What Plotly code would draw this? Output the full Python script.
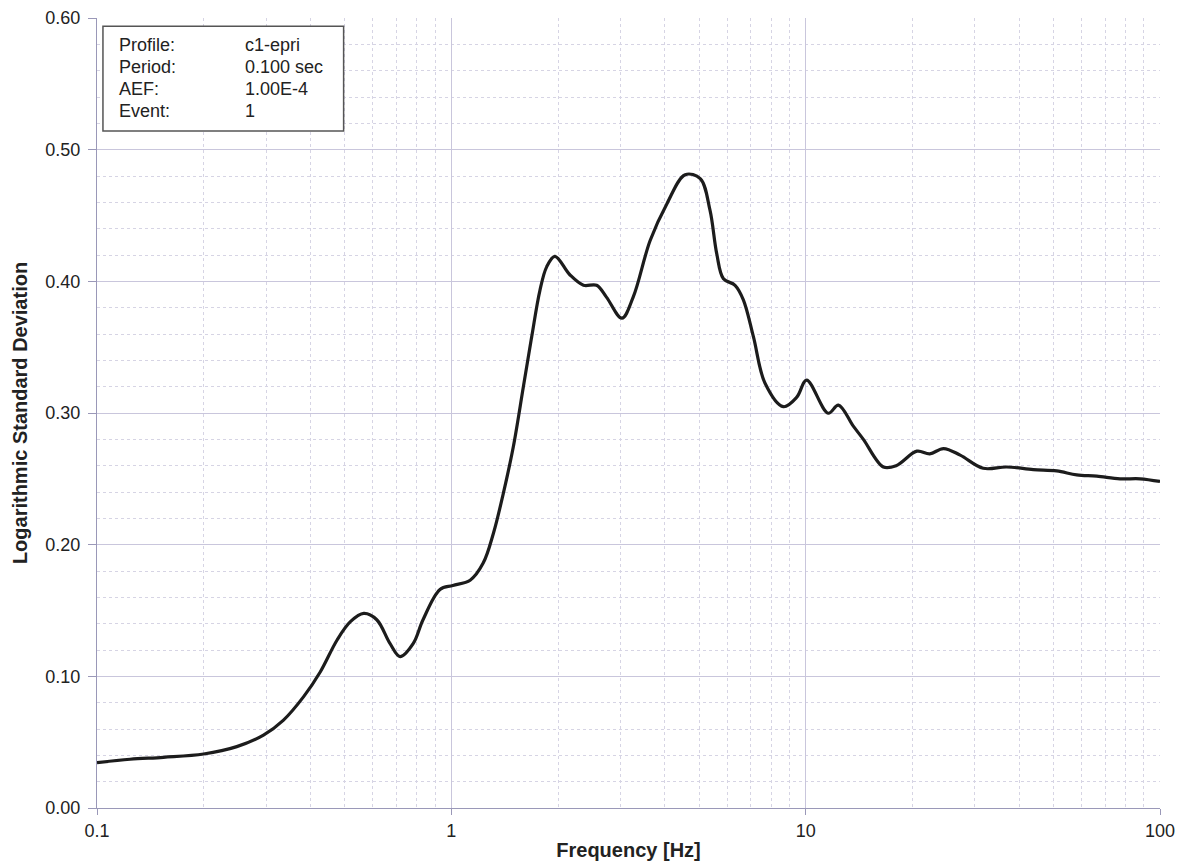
import plotly.graph_objects as go

# Frequency (Hz) and logarithmic standard deviation of the site response
freq_hz = [0.1, 0.124, 0.154, 0.2, 0.248, 0.295, 0.336, 0.383, 0.427, 0.476, 0.519,
           0.566, 0.616, 0.671, 0.717, 0.781, 0.832, 0.929, 1.01, 1.13, 1.23, 1.314,
           1.402, 1.496, 1.597, 1.686, 1.778, 1.858, 1.96, 2.16, 2.36, 2.57, 2.74,
           3.03, 3.26, 3.64, 4.06, 4.57, 5.04, 5.37, 5.61, 5.86, 6.32, 6.67, 7.12,
           7.68, 8.65, 9.44, 10.06, 11.58, 12.37, 13.63, 14.55, 16.57, 18.0, 20.6,
           22.4, 24.5, 27.3, 31.7, 36.9, 43.9, 51.1, 58.2, 66.3, 77.1, 87.9, 100.0]
log_std = [0.0344, 0.037, 0.0385, 0.041, 0.0466, 0.0554, 0.0668, 0.0846, 0.1035, 0.1276,
           0.1415, 0.1478, 0.143, 0.125, 0.115, 0.125, 0.143, 0.166, 0.169, 0.173, 0.186,
           0.2085, 0.239, 0.2744, 0.320, 0.358, 0.393, 0.411, 0.419, 0.405, 0.397, 0.397,
           0.388, 0.372, 0.388, 0.431, 0.459, 0.481, 0.478, 0.454, 0.421, 0.402, 0.397,
           0.386, 0.358, 0.3226, 0.3048, 0.312, 0.325, 0.2998, 0.306, 0.290, 0.280,
           0.259, 0.260, 0.271, 0.269, 0.273, 0.268, 0.258, 0.259, 0.257, 0.256, 0.253,
           0.252, 0.250, 0.250, 0.248]

info_labels = ["Profile:", "Period:", "AEF:", "Event:"]
info_values = ["c1-epri", "0.100 sec", "1.00E-4", "1"]

x_major = [0.1, 1, 10, 100]
x_minor = [m * d for d in (0.1, 1, 10) for m in range(2, 10)]

FONT = "Liberation Sans, Arial, sans-serif"
GRID = "#c9c6dc"
GRID_MINOR = "#d6d4e4"
AXIS = "#9a98b8"

fig = go.Figure()
fig.add_trace(go.Scatter(
    x=freq_hz, y=log_std, mode="lines",
    line=dict(color="#1c1c1c", width=3.2, shape="spline", smoothing=1.0),
    showlegend=False,
))

fig.update_layout(
    width=1182, height=861,
    margin=dict(l=97, r=22, t=18, b=53),
    paper_bgcolor="white", plot_bgcolor="white",
    font=dict(family=FONT, size=18, color="#222222"),
    xaxis=dict(
        type="log", range=[-1, 2], automargin=False,
        tickmode="array", tickvals=x_major, ticktext=["0.1", "1", "10", "100"],
        showgrid=True, gridcolor=GRID, gridwidth=1,
        showline=True, linecolor=AXIS, linewidth=1,
        ticks="outside", ticklen=6, tickcolor=AXIS,
        minor=dict(tickmode="array", tickvals=x_minor, showgrid=True,
                   gridcolor=GRID_MINOR, griddash="dot", gridwidth=1, ticks=""),
        title=dict(text="<b>Frequency [Hz]</b>", font=dict(size=20), standoff=4),
        zeroline=False,
    ),
    yaxis=dict(
        range=[0, 0.6], dtick=0.1, tick0=0, tickformat=".2f", automargin=False,
        showgrid=True, gridcolor=GRID, gridwidth=1,
        showline=True, linecolor=AXIS, linewidth=1,
        ticks="outside", ticklen=8, tickcolor=AXIS, ticklabelstandoff=4,
        minor=dict(dtick=0.02, showgrid=True, gridcolor=GRID_MINOR,
                   griddash="dot", gridwidth=1, ticks=""),
        title=dict(text="<b>Logarithmic Standard Deviation</b>", font=dict(size=20), standoff=12),
        zeroline=False,
    ),
)

# Info box in the upper left corner
fig.add_shape(type="rect", xref="paper", yref="paper",
              x0=0.0056, x1=0.232, y0=0.857, y1=0.9895,
              line=dict(color="#555555", width=1.5), fillcolor="white", layer="above")
for i, (lab, val) in enumerate(zip(info_labels, info_values)):
    yy = 0.966 - i * 0.0278
    fig.add_annotation(x=0.019, y=yy, xref="paper", yref="paper", text=lab,
                       showarrow=False, xanchor="left", yanchor="middle",
                       font=dict(size=18, color="#222222"))
    fig.add_annotation(x=0.137, y=yy, xref="paper", yref="paper", text=val,
                       showarrow=False, xanchor="left", yanchor="middle",
                       font=dict(size=18, color="#222222"))

fig.write_html("out.html")
